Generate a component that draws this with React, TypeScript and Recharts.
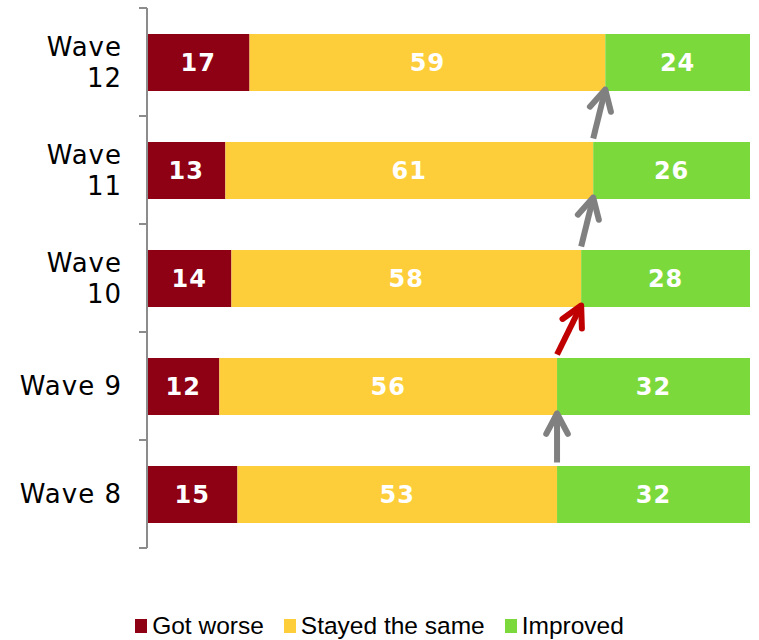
import React from 'react';
import { BarChart, Bar, XAxis, YAxis, LabelList, Legend, ReferenceLine } from 'recharts';

const categories = ['Wave 12', 'Wave 11', 'Wave 10', 'Wave 9', 'Wave 8'];
const gotWorse = [17, 13, 14, 12, 15];
const stayedSame = [59, 61, 58, 56, 53];
const improved = [24, 26, 28, 32, 32];
const seriesKeys = ['worse', 'same', 'improved'];
const seriesNames = ['Got worse', 'Stayed the same', 'Improved'];
const seriesColors = ['#8E0014', '#FECE3A', '#7CD93C'];

// arrows linking the "stayed the same / improved" boundary of a wave to the next wave
const arrowFrom = ['Wave 8', 'Wave 9', 'Wave 10', 'Wave 11'];
const arrowTo = ['Wave 9', 'Wave 10', 'Wave 11', 'Wave 12'];
const arrowColors = ['#808080', '#C00000', '#808080', '#808080'];

const W = 759;
const H = 640;
const MARGIN = { top: 8, right: 9, bottom: 92, left: 0 };
const BAR = 57;
const BAND = (H - MARGIN.top - MARGIN.bottom) / categories.length;

const data = categories.map((name, i) => ({
  name,
  worse: gotWorse[i],
  same: stayedSame[i],
  improved: improved[i],
}));

const boundary = (cat: string) => {
  const i = categories.indexOf(cat);
  return gotWorse[i] + stayedSame[i];
};

const makeArrow = (color: string) => (props: any) => {
  const { x1, y1, x2, y2 } = props;
  const sx = x1;
  const sy = y1 - BAR / 2 - 3;
  const ex = x2;
  const ey = y2 + BAR / 2 - 1;
  const ang = Math.atan2(ey - sy, ex - sx);
  const L = 23;
  const a = (28 * Math.PI) / 180;
  const p1x = ex - L * Math.cos(ang - a);
  const p1y = ey - L * Math.sin(ang - a);
  const p2x = ex - L * Math.cos(ang + a);
  const p2y = ey - L * Math.sin(ang + a);
  return (
    <g>
      <line x1={sx} y1={sy} x2={ex} y2={ey} stroke={color} strokeWidth={6} strokeLinecap="butt" />
      <polyline
        points={`${p1x},${p1y} ${ex},${ey} ${p2x},${p2y}`}
        fill="none"
        stroke={color}
        strokeWidth={6}
        strokeLinecap="round"
        strokeLinejoin="round"
      />
    </g>
  );
};

const YTick = (props: any) => {
  const { x, y, payload, index } = props;
  const label: string = payload.value;
  const parts = label.length > 6 ? label.split(' ') : [label];
  const top = y - BAND / 2;
  const bottom = y + BAND / 2;
  return (
    <g>
      <line x1={x - 8} y1={top} x2={x} y2={top} stroke="#8c8c8c" strokeWidth={2} />
      {index === categories.length - 1 && (
        <line x1={x - 8} y1={bottom} x2={x} y2={bottom} stroke="#8c8c8c" strokeWidth={2} />
      )}
      <text
        x={x - 25}
        y={y}
        textAnchor="end"
        fontFamily="DejaVu Sans"
        fontSize={26}
        letterSpacing={1}
        fill="#000"
      >
        {parts.map((p, i) => (
          <tspan
            key={i}
            x={x - 25}
            dy={i === 0 ? (parts.length === 1 ? 9 : -6.5) : 31}
          >
            {p}
          </tspan>
        ))}
      </text>
    </g>
  );
};

const LegendContent = () => (
  <div
    style={{
      display: 'flex',
      justifyContent: 'center',
      alignItems: 'center',
      height: 32,
      fontFamily: 'Liberation Sans, Arial, sans-serif',
      fontSize: 24.5,
      color: '#000',
    }}
  >
    {seriesNames.map((n, i) => (
      <div
        key={n}
        style={{
          display: 'flex',
          alignItems: 'center',
          marginRight: i === seriesNames.length - 1 ? 0 : 20,
        }}
      >
        <span
          style={{
            display: 'inline-block',
            width: 12,
            height: 14,
            background: seriesColors[i],
            marginRight: 5,
          }}
        />
        <span>{n}</span>
      </div>
    ))}
  </div>
);

export default function App() {
  return (
    <div style={{ position: 'absolute', left: 0, top: 0, width: W, height: H, background: '#fff' }}>
      <BarChart width={W} height={H} data={data} layout="vertical" margin={MARGIN} barSize={BAR}>
        <XAxis type="number" domain={[0, 100]} hide />
        <YAxis
          type="category"
          dataKey="name"
          width={147}
          tickSize={0}
          tickMargin={0}
          tickLine={false}
          axisLine={{ stroke: '#8c8c8c', strokeWidth: 2 }}
          tick={<YTick />}
          interval={0}
        />
        {seriesKeys.map((k, i) => (
          <Bar
            key={k}
            dataKey={k}
            name={seriesNames[i]}
            stackId="a"
            fill={seriesColors[i]}
            isAnimationActive={false}
          >
            <LabelList
              dataKey={k}
              position="center"
              fill="#fff"
              fontFamily="DejaVu Sans"
              fontWeight="bold"
              fontSize={24}
              letterSpacing={1}
            />
          </Bar>
        ))}
        {arrowFrom.map((from, i) => (
          <ReferenceLine
            key={from}
            segment={[
              { x: boundary(from), y: from },
              { x: boundary(arrowTo[i]), y: arrowTo[i] },
            ]}
            ifOverflow="visible"
            shape={makeArrow(arrowColors[i])}
          />
        ))}
        <Legend
          layout="vertical"
          align="center"
          verticalAlign="middle"
          wrapperStyle={{ top: 610, left: 0, width: W }}
          content={<LegendContent />}
        />
      </BarChart>
    </div>
  );
}
